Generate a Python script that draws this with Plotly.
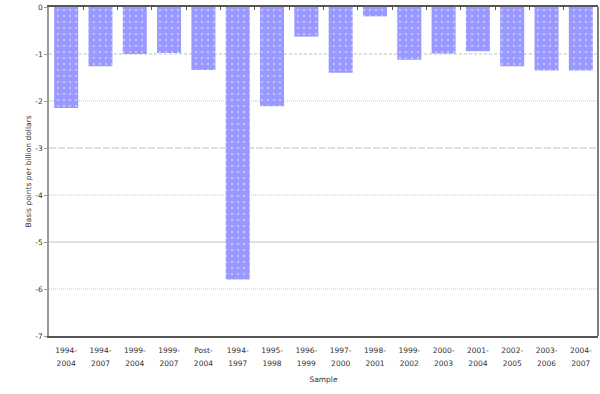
import plotly.graph_objects as go

line1 = ["1994-", "1994-", "1999-", "1999-", "Post-", "1994-", "1995-", "1996-", "1997-", "1998-",
         "1999-", "2000-", "2001-", "2002-", "2003-", "2004-"]
line2 = ["2004", "2007", "2004", "2007", "2004", "1997", "1998", "1999", "2000", "2001",
         "2002", "2003", "2004", "2005", "2006", "2007"]
values = [-2.15, -1.26, -1.0, -0.98, -1.34, -5.8, -2.11, -0.63, -1.40, -0.20,
          -1.12, -0.99, -0.94, -1.26, -1.35, -1.35]
y_ticks = [0, -1, -2, -3, -4, -5, -6, -7]
y_tick_labels = ["0", "-1", "-2", "-3", "-4", "-5", "-6", "-7"]
grid_values = [-1, -2, -3, -4, -5, -6]
grid_dashes = ["3px,2px", "1px,1px", "7px,2px", "1px,1px", "solid", "1px,1px"]

SP = "<span style='font-size:7.5px'>"
categories = [f"{SP}{a}</span><br>{SP}{b}</span>" for a, b in zip(line1, line2)]
n = len(categories)

fig = go.Figure()
fig.add_trace(go.Bar(
    x=list(range(n)), y=values, width=0.7,
    marker=dict(color="#9999ff", line=dict(width=0),
                pattern=dict(shape=".", fgcolor="#ffffff", bgcolor="#9999ff",
                             size=6, solidity=0.1, fillmode="overlay")),
))
fig.add_trace(go.Scatter(x=[None], y=[None], xaxis="x2", showlegend=False))

for gv, gd in zip(grid_values, grid_dashes):
    fig.add_shape(type="line", xref="paper", yref="y", x0=0, x1=1, y0=gv, y1=gv,
                  line=dict(color="#c0c0c0", width=1, dash=gd), layer="below")

fig.update_layout(
    width=600, height=394,
    margin=dict(l=49, r=2, t=7, b=58, autoexpand=False),
    paper_bgcolor="white", plot_bgcolor="white",
    showlegend=False,
    font=dict(family="DejaVu Sans", size=7.5, color="#333333"),
    xaxis=dict(
        range=[-0.5, n - 0.5],
        tickvals=list(range(n)), ticktext=categories,
        ticks="", showgrid=False, zeroline=False, automargin=False,
        showline=True, linecolor="#555555", linewidth=1.5,
        ticklabelstandoff=3,
        tickfont=dict(size=10, color="#333333"),
        title=dict(text="Sample", font=dict(size=7.5, color="#333333"), standoff=10),
    ),
    xaxis2=dict(
        overlaying="x", side="top", range=[-0.5, n - 0.5],
        tickvals=[i + 0.5 for i in range(n - 1)],
        showticklabels=False, ticks="inside", ticklen=3, tickcolor="#555555",
        showgrid=False, zeroline=False, showline=True, linecolor="#555555", linewidth=1.5,
    ),
    yaxis=dict(
        range=[-7, 0], tickvals=y_ticks, ticktext=y_tick_labels,
        showgrid=False, zeroline=False, automargin=False,
        showline=True, linecolor="#999999", linewidth=1.5,
        ticks="outside", ticklen=3, tickcolor="#999999",
        tickfont=dict(size=7.5, color="#333333"),
        title=dict(text="Basis points per billion dollars", font=dict(size=7.5, color="#333333"), standoff=3),
    ),
)
fig.add_shape(type="line", xref="paper", yref="paper", x0=1, x1=1, y0=0, y1=1,
              line=dict(color="#555555", width=1.5))
fig.write_html("out.html", config={"displayModeBar": False},
               post_script="document.body.style.margin='0';document.body.style.padding='0';")
